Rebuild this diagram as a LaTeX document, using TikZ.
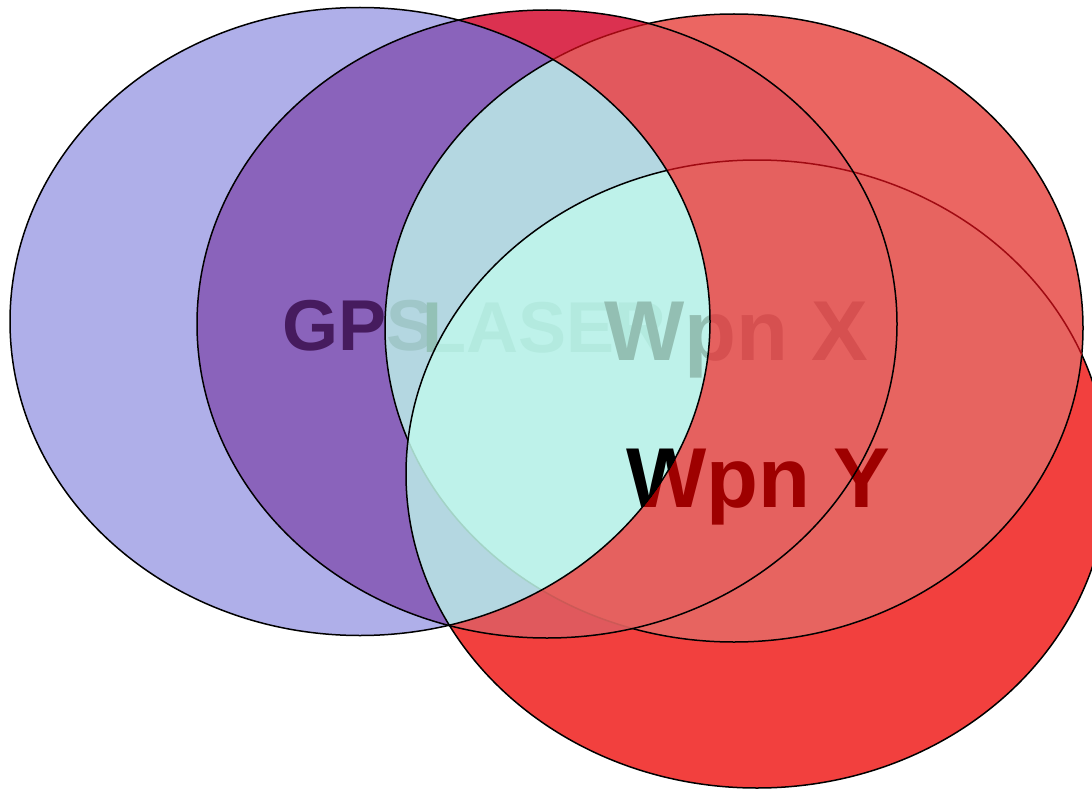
\documentclass[tikz,border=0pt]{standalone}
\usepackage{fontspec}
\setmainfont{Liberation Sans}
\definecolor{lav}{HTML}{AFAFE9}
\definecolor{purp}{HTML}{8A63BB}
\definecolor{lblue}{HTML}{B4D7E1}
\definecolor{mint}{HTML}{BEF2EA}
\definecolor{crim}{HTML}{DB3150}
\definecolor{redBC}{HTML}{E2585D}
\definecolor{redBCD}{HTML}{E5615F}
\definecolor{redBD}{HTML}{E0595D}
\definecolor{redC}{HTML}{EB6662}
\definecolor{redCD}{HTML}{E76460}
\definecolor{redD}{HTML}{F2403E}
\definecolor{edgered}{HTML}{A00A12}
\definecolor{faintcy}{HTML}{A3D3C6}
\definecolor{faintrd}{HTML}{CC5956}
\definecolor{gpsdark}{HTML}{461B5E}
\definecolor{gpslight}{HTML}{A0C7C9}
\definecolor{laserout}{HTML}{93C1B6}
\definecolor{laserin}{HTML}{B3EADF}
\definecolor{wpnxin}{HTML}{93BFB3}
\definecolor{wpnxout}{HTML}{D65050}
\definecolor{wpnyout}{HTML}{9E0000}
\begin{document}
\begin{tikzpicture}[x=1pt,y=-1pt,
  ellA/.style={insert path={(360,321.5) ellipse [x radius=350, y radius=314]}},
  ellB/.style={insert path={(547,324) ellipse [x radius=350, y radius=314]}},
  ellC/.style={insert path={(734,328) ellipse [x radius=349, y radius=314]}},
  ellD/.style={insert path={(757,474) ellipse [x radius=351, y radius=314]}},
  rim/.style={line width=1.5pt},
  lbl/.style={inner sep=0pt, anchor=base west, font=\bfseries\fontsize{72}{72}\selectfont},
  big/.style={font=\bfseries\fontsize{85}{85}\selectfont}]
% clip to everything outside a given ellipse (even-odd rule on frame + ellipse)
\newcommand\outside[1]{\pgfseteorule\clip[#1] (-50,-50) rectangle (1150,850);}

\useasboundingbox (0,0) rectangle (1092,789);

% ---- region fills ----
\fill[lav, ellA];
\fill[redD, ellD];
\fill[redC, ellC];
\begin{scope}\clip[ellC]; \fill[redCD, ellD];\end{scope}
\fill[crim, ellB];
\begin{scope}
  \clip[ellB];
  \fill[purp, ellA];
  \fill[redBC, ellC];
  \fill[redBD, ellD];
  \begin{scope}\clip[ellC]; \fill[redBCD, ellD];\end{scope}
  \begin{scope}
    \clip[ellA];
    \fill[lblue, ellC];
    \fill[lblue, ellD];
    \begin{scope}\clip[ellC]; \fill[mint, ellD];\end{scope}
  \end{scope}
\end{scope}

% ---- labels ----
\begin{scope}\outside{ellC}
  \node[lbl, text=gpsdark] (gps) at (282,350) {GPS};
\end{scope}
\begin{scope}\clip[ellC];
  \node[lbl, text=gpslight] (gpsIn) at (282,350) {GPS};
\end{scope}
\begin{scope}\outside{ellD}
  \node[lbl, text=laserout] (laser) at (422,352) {LASER};
\end{scope}
\begin{scope}\clip[ellD];
  \node[lbl, text=laserin] (laserIn) at (422,352) {LASER};
\end{scope}
\begin{scope}\outside{ellA}
  \node[lbl, big, text=wpnxout] (wpnx) at (604,360) {Wpn X};
  \node[lbl, big, text=wpnyout] (wpny) at (626,507) {Wpn Y};
\end{scope}
\begin{scope}\clip[ellA];
  \node[lbl, big, text=wpnxin] (wpnxIn) at (604,360) {Wpn X};
  \node[lbl, big, text=black] (wpnyIn) at (626,507) {Wpn Y};
\end{scope}

% ---- outlines of the third ellipse ----
\begin{scope}\outside{ellB} \draw[rim, ellC]; \end{scope}
\begin{scope}\clip[ellB]; \clip[ellA]; \outside{ellD} \draw[rim, ellC]; \end{scope}
\begin{scope}\clip[ellB]; \outside{ellA} \outside{ellD} \draw[rim, edgered, ellC]; \end{scope}
\begin{scope}\clip[ellB]; \clip[ellD]; \clip[ellA]; \draw[rim, faintcy, ellC]; \end{scope}
\begin{scope}\clip[ellB]; \clip[ellD]; \outside{ellA} \draw[rim, faintrd, ellC]; \end{scope}

% ---- outlines of the fourth ellipse ----
\begin{scope}\outside{ellC} \draw[rim, ellD]; \end{scope}
\begin{scope}\clip[ellC]; \clip[ellA]; \draw[rim, ellD]; \end{scope}
\begin{scope}\clip[ellC]; \outside{ellA} \draw[rim, edgered, ellD]; \end{scope}

% ---- outlines of the first two ellipses ----
\draw[rim, ellA];
\draw[rim, ellB];
\end{tikzpicture}
\end{document}
